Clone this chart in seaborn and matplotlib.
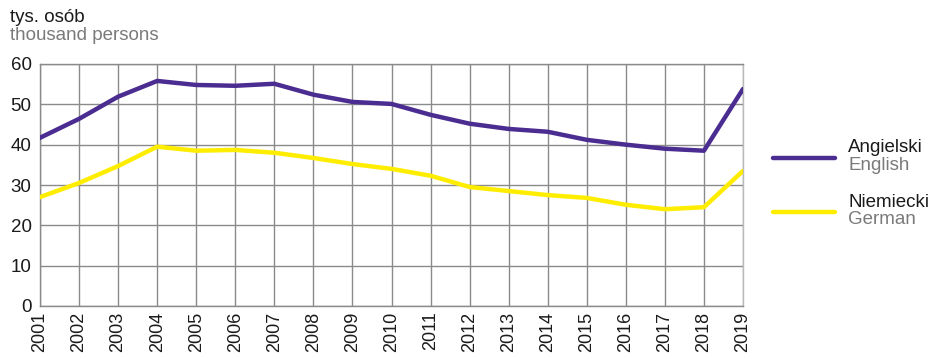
import pandas as pd
import matplotlib.pyplot as plt
import seaborn as sns
from matplotlib.lines import Line2D

# dane (tys. osób)
years = list(range(2001, 2020))
english = [41.7, 46.4, 51.9, 55.8, 54.8, 54.6, 55.1, 52.4, 50.6, 50.1,
           47.4, 45.2, 43.9, 43.2, 41.2, 40.0, 39.0, 38.5, 53.8]
german = [27.0, 30.5, 34.7, 39.5, 38.5, 38.7, 38.0, 36.7, 35.2, 34.0,
          32.3, 29.5, 28.5, 27.5, 26.8, 25.1, 24.0, 24.5, 33.5]
series_names = ['Angielski', 'Niemiecki']
series_names_en = ['English', 'German']
colors = ['#4b2c91', '#ffed00']

df = pd.DataFrame({
    'year': years * 2,
    'value': english + german,
    'lang': [series_names[0]] * len(years) + [series_names[1]] * len(years),
})

sns.set_style('white')
plt.rcParams['font.family'] = ['Liberation Sans', 'DejaVu Sans']

fig = plt.figure(figsize=(9.31, 3.59), dpi=100)
ax = fig.add_axes([40 / 931, 1 - 306 / 359, (743 - 40) / 931, (306 - 64) / 359])

sns.lineplot(data=df, x='year', y='value', hue='lang', palette=colors,
             linewidth=3.2, legend=False, ax=ax, zorder=3)

ax.set_xlim(2001, 2019)
ax.set_ylim(0, 60)
ax.set_xticks(years)
ax.set_xticklabels([str(y) for y in years], rotation=90, fontsize=13, color='#1a1a1a')
ax.set_yticks(range(0, 61, 10))
ax.tick_params(axis='y', labelsize=13.5, labelcolor='#1a1a1a', length=0, pad=6)
ax.tick_params(axis='x', length=0, pad=4)
ax.grid(True, color='#8a8a8a', linewidth=1)
ax.set_xlabel('')
ax.set_ylabel('')
for s in ax.spines.values():
    s.set_color('#8a8a8a')
    s.set_linewidth(1)
ax.spines['right'].set_color('#bbbbbb')

fig.text(10 / 931, 1 - 18 / 359, 'tys. osób', fontsize=13.5, color='#1a1a1a', va='center')
fig.text(10 / 931, 1 - 36 / 359, 'thousand persons', fontsize=13.5, color='#7a7a7a', va='center')

# legenda
for i, (pl, en) in enumerate(zip(series_names, series_names_en)):
    yl = 158 + i * 54
    fig.add_artist(Line2D([773 / 931, 835 / 931], [1 - yl / 359, 1 - yl / 359],
                          color=colors[i], linewidth=3.2, solid_capstyle='round',
                          transform=fig.transFigure))
    fig.text(848 / 931, 1 - (yl - 10) / 359, pl, fontsize=13.5, color='#1a1a1a', va='center')
    fig.text(848 / 931, 1 - (yl + 8) / 359, en, fontsize=13.5, color='#7a7a7a', va='center')

fig.savefig('out.png', dpi=100)
